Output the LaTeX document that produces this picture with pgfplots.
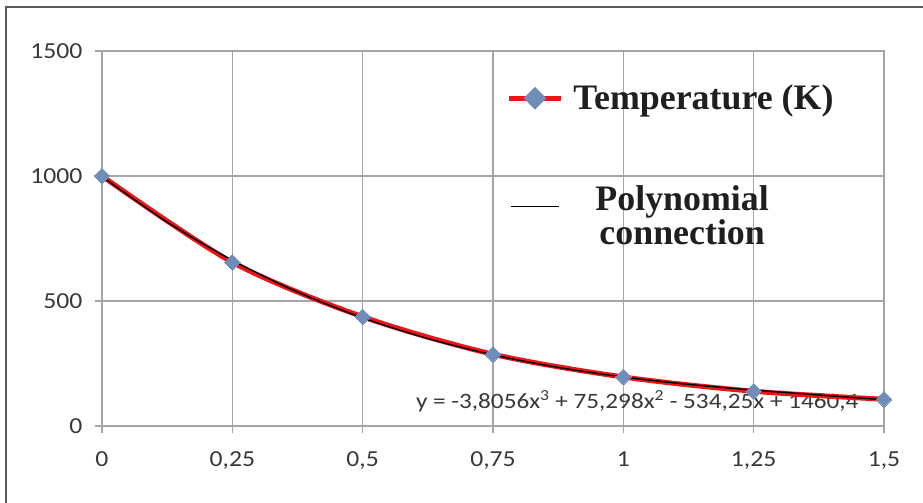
\documentclass[border=0pt]{standalone}
\usepackage{fontspec}
\usepackage{pgfplots}
\pgfplotsset{compat=1.18}
\newfontfamily\calib[FakeStretch=1.15]{Carlito}
\newfontfamily\calibt[FakeStretch=1.12]{Carlito}
\newfontfamily\timesf{Liberation Serif}
\definecolor{gridgrey}{RGB}{165,165,165}
\definecolor{markblue}{RGB}{110,142,185}
\definecolor{linered}{RGB}{240,20,20}

\begin{document}
\begin{tikzpicture}
\useasboundingbox (-102bp,-77bp) rectangle (821bp,426bp);
\fill[white] (-102bp,-77bp) rectangle (821bp,426bp);
\draw[black!65, line width=1.5bp] (-96bp,-77bp) -- (-96bp,419bp) -- (821bp,419bp);
\begin{axis}[
    at={(0,0)}, anchor=south west,
    scale only axis,
    width=782bp, height=375bp,
    xmin=0, xmax=1.5, ymin=0, ymax=1500,
    xtick={0,0.25,0.5,0.75,1,1.25,1.5},
    xticklabels={0,{0,25},{0,5},{0,75},1,{1,25},{1,5}},
    ytick={0,500,1000,1500},
    yticklabels={0,500,1000,1500},
    xtick pos=bottom, ytick pos=left,
    tick align=outside,
    major tick length=7bp,
    tick style={gridgrey, line width=1.2bp},
    grid=major,
    grid style={gridgrey, line width=1.2bp},
    axis line style={gridgrey, line width=1.2bp},
    tick label style={font=\calibt\fontsize{23}{25}\selectfont, text=black!78},
    xticklabel style={yshift=-15bp},
    yticklabel style={xshift=-9bp},
    legend style={at={(0.517,0.915)}, anchor=north west, draw=none, fill=none,
        font=\timesf\bfseries\fontsize{36}{31}\selectfont, text=black!88,
        row sep=70bp, inner sep=0pt},
    legend cell align=left,
]
\node[anchor=base west, inner sep=0pt, font=\calib\fontsize{22}{24}\selectfont, text=black!78]
    at (axis cs:0.602,72) {y = -3,8056x\textsuperscript{3} + 75,298x\textsuperscript{2} - 534,25x + 1460,4};
\addplot[linered, line width=5bp, smooth, mark=square*, mark size=5.5bp,
    mark options={rotate=45, fill=markblue, draw=markblue, line width=0pt},
    legend image code/.code={
        \draw[linered, line width=5bp] (0bp,0bp) -- (52bp,0bp);
        \fill[markblue, rotate around={45:(26bp,0bp)}] (20.5bp,-5.5bp) rectangle (31.5bp,5.5bp);
    }] coordinates {
    (0,1000) (0.25,655) (0.5,437) (0.75,287) (1,196) (1.25,139) (1.5,107)
};
\addlegendentry{\hspace*{8bp}Temperature (K)}
\addplot[black, line width=1.4bp, smooth,
    legend image code/.code={\draw[black, line width=1.4bp] (2bp,0bp) -- (50bp,0bp);}]
    coordinates {
    (0,997.6) (0.125,815.6) (0.25,662.7) (0.375,535.9) (0.5,432.6) (0.625,349.8)
    (0.75,284.6) (0.875,234.3) (1,195.9) (1.125,166.6) (1.25,143.6) (1.375,124.0) (1.5,104.9)
};
\addlegendentry{\hspace*{30bp}\begin{tabular}{@{}c@{}}Polynomial\\connection\end{tabular}}
\end{axis}
\end{tikzpicture}
\end{document}
